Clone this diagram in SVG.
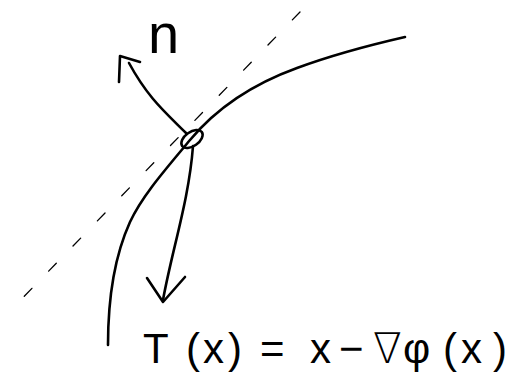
<svg xmlns="http://www.w3.org/2000/svg" width="510" height="375" viewBox="0 0 510 375">
<style>
.ink{fill:none;stroke:#000;stroke-width:2.6;stroke-linecap:round;stroke-linejoin:round}
.dash{fill:none;stroke:#000;stroke-width:1.3;stroke-linecap:round;stroke-dasharray:11 24}
.hand{font-family:"Liberation Sans","DejaVu Sans",sans-serif;fill:#000}
</style>
<rect width="510" height="375" fill="#fff"/>
<g id="tangent">
<path class="dash" d="M300,12 L8,313"/>
</g>
<g id="curve">
<path class="ink" d="M108,345 C108,300 115,255 130,222 C142,196 165,170 190,140 C215,110 250,85 297,68 C335,54 370,45 405,37"/>
</g>
<g id="point">
<ellipse class="ink" cx="192" cy="139" rx="12" ry="7" transform="rotate(-35 192 139)"/>
</g>
<g id="connectors">
<path class="ink" d="M186,133 C165,112 148,98 129,63"/>
<path class="ink" d="M119,82 L120,56 L140,62"/>
<path class="ink" d="M193,146 C189,200 172,250 163,300"/>
<path class="ink" d="M147,278 L163,302 L185,277"/>
</g>
<g id="labels">
<text class="hand" x="148" y="53" font-size="56">n</text>
<text class="hand" x="143 186 203 228 245 260 290 310 339 373 403 443 461 493" y="363" font-size="42" font-weight="300">T(x) = x−∇φ(x)</text>
</g>
</svg>
